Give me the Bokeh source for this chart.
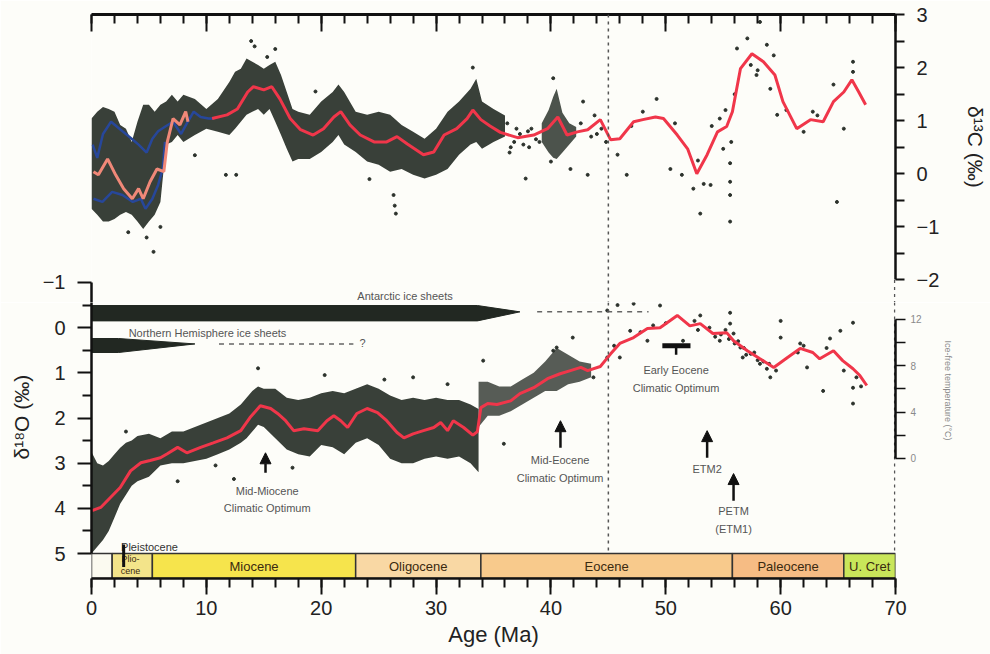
from bokeh.plotting import figure
from bokeh.layouts import column
from bokeh.models import Range1d, LinearAxis, FixedTicker, Span, Arrow, NormalHead
from bokeh.embed import file_html
from bokeh.resources import INLINE
from bokeh.core.properties import value

FONT = "Liberation Sans"
BG = "#fdfdf9"
NB = "\u00a0"

# ---------------- data ----------------
# smoothed benthic d13C (red), Ma / permil
c13_age = [10.5, 11.8, 12.7, 13.6, 14.1, 15.0, 15.7, 16.4, 17.3, 18.2, 19.3, 20.2, 21.1, 21.7, 22.5,
           23.4, 24.6, 25.7, 26.6, 27.5, 28.9, 29.8, 30.7, 31.8, 32.7, 33.2, 33.9, 34.7, 35.6, 37.1,
           38.5, 39.7, 40.6, 41.4, 42.3, 43.2, 44.3, 45.2, 46.0, 47.2, 48.0, 49.1, 49.8, 51.0, 51.9,
           52.7, 53.6, 54.5, 55.3, 55.8, 56.5, 57.5, 58.5, 59.5, 60.2, 61.4, 62.6, 63.7, 64.6, 65.5,
           66.2, 66.8, 67.4]
c13_val = [1.04, 1.11, 1.22, 1.54, 1.64, 1.58, 1.64, 1.41, 1.04, 0.83, 0.73, 0.85, 1.07, 1.17, 0.92,
           0.73, 0.60, 0.60, 0.70, 0.56, 0.36, 0.41, 0.73, 0.85, 1.04, 1.20, 1.02, 0.90, 0.78, 0.68,
           0.73, 0.85, 1.07, 0.73, 0.79, 0.83, 1.02, 0.64, 0.66, 0.98, 1.02, 1.07, 1.04, 0.73, 0.47,
           0.00, 0.36, 0.79, 0.89, 1.17, 1.98, 2.26, 2.11, 1.86, 1.36, 0.85, 1.02, 0.98, 1.36, 1.54,
           1.77, 1.54, 1.30]
# 0-11 Ma d13C records: blue (upper and lower), salmon
blue_hi_age = [0.1, 0.5, 1.0, 1.7, 2.7, 3.6, 4.1, 4.8, 5.3, 5.8, 6.5, 7.1, 7.8, 8.3, 8.9, 9.5, 10.2, 10.7]
blue_hi_val = [0.55, 0.30, 0.75, 0.98, 0.80, 0.64, 0.55, 0.40, 0.66, 0.80, 0.90, 0.98, 0.75, 0.95, 1.17, 1.07, 1.04, 1.04]
blue_lo_age = [0.17, 0.95, 1.8, 2.7, 3.6, 4.3, 4.7, 5.3, 5.8, 6.2, 6.4]
blue_lo_val = [-0.47, -0.53, -0.34, -0.40, -0.53, -0.47, -0.66, -0.47, -0.21, 0.09, 0.60]
salmon_age = [0.17, 0.6, 1.4, 2.1, 2.8, 3.55, 4.1, 4.5, 5.1, 5.7, 6.3, 6.6, 7.1, 7.7, 8.2, 8.4]
salmon_val = [0.04, -0.02, 0.28, -0.02, -0.28, -0.47, -0.28, -0.47, -0.15, 0.09, 0.04, 0.60, 1.04, 0.92, 1.17, 0.98]
# envelope of the dense d13C data cloud
c13_band_age = [0, 0.5, 1, 1.5, 2, 2.5, 3, 3.5, 4, 4.5, 5, 5.5, 6, 6.5, 7, 7.5, 8, 9, 10, 11, 12, 12.5,
                13, 13.5, 14, 14.5, 15, 15.5, 16, 16.5, 17, 17.5, 18, 19, 20, 21, 21.5, 22, 23, 24, 25,
                26, 27, 28, 29, 30, 31, 32, 33, 33.5, 34, 35, 36]
c13_band_hi = [1.04, 1.17, 1.26, 1.22, 1.17, 0.92, 0.85, 0.60, 0.98, 1.30, 1.30, 1.17, 1.30, 1.36, 1.49,
               1.36, 1.49, 1.41, 1.22, 1.41, 1.73, 1.92, 1.98, 2.17, 2.11, 2.05, 1.98, 2.05, 2.11, 1.86,
               1.54, 1.22, 1.17, 1.11, 1.36, 1.54, 1.68, 1.54, 1.17, 1.11, 1.17, 1.11, 0.92, 0.79, 0.66,
               0.85, 1.17, 1.36, 1.60, 1.79, 1.36, 1.22, 1.10]
c13_band_lo = [-0.66, -0.77, -0.90, -0.90, -0.85, -0.77, -0.72, -0.77, -0.90, -1.04, -0.90, -0.77, -0.53,
               0.55, 0.60, 0.73, 0.60, 0.73, 0.85, 0.79, 0.73, 0.85, 0.98, 1.11, 1.17, 1.22, 1.11, 1.22,
               0.98, 0.73, 0.47, 0.23, 0.28, 0.28, 0.41, 0.60, 0.73, 0.55, 0.41, 0.23, 0.17, 0.04, 0.09,
               -0.02, -0.09, -0.02, 0.09, 0.36, 0.55, 0.60, 0.47, 0.60, 0.70]
c13_band2_age = [39.2, 39.8, 40.2, 40.5, 41.0, 41.6, 42.2]
c13_band2_hi = [0.95, 1.20, 1.45, 1.60, 1.15, 0.95, 0.88]
c13_band2_lo = [0.60, 0.40, 0.30, 0.28, 0.40, 0.55, 0.70]
# scattered d13C samples
c13_dot_age = [5.4, 4.8, 3.2, 6.0, 11.7, 12.6, 9.0, 13.9, 14.2, 16.0, 15.3, 26.3, 26.5, 26.4, 24.2, 19.5,
               33.2, 37.8, 40.2, 40.0, 41.7, 42.8, 43.2, 46.6, 45.8, 48.0, 49.2, 50.4, 51.4, 52.4, 53.0,
               53.3, 53.9, 52.8, 54.7, 55.0, 55.6, 55.6, 55.6, 55.6, 55.7, 56.2, 57.1, 58.2, 58.8, 59.4,
               57.9, 59.1, 59.7, 62.0, 62.8, 64.9, 64.6, 65.5, 66.3, 66.3, 44.0, 47.0, 36.5, 38.0, 56.0,
               55.2, 54.0, 57.4, 58.0, 60.5, 63.2, 50.8, 43.8, 39.0, 36.2, 36.8, 37.3, 37.6, 38.3, 38.7,
               36.4, 37.0, 38.1, 42.6, 43.5, 44.4, 44.8]
c13_dot_val = [-1.47, -1.20, -1.10, -1.00, -0.02, -0.02, 0.35, 2.50, 2.40, 2.35, 2.20, -0.40, -0.75, -0.60,
               -0.10, 1.55, 2.00, -0.09, 1.80, 0.23, 0.09, 1.36, -0.02, -0.02, 0.36, 1.17, 1.41, 0.09,
               -0.02, -0.28, -0.75, -0.19, -0.21, 0.25, 1.04, 0.47, -0.15, -0.40, -0.90, 0.20, 0.60, 2.36,
               2.55, 2.86, 2.43, 2.23, 1.86, 1.60, 1.11, 0.79, 1.17, -0.53, 1.68, 0.85, 2.11, 1.92, 0.75,
               0.90, 0.50, 0.80, 1.50, 1.20, 0.90, 2.05, 1.95, 1.20, 1.10, 0.95, 1.10, 0.60, 0.95, 0.60,
               0.75, 0.55, 0.85, 0.65, 0.40, 0.85, 0.50, 0.95, 0.70, 0.85, 0.60]

# smoothed benthic d18O (red)
o18_age = [0.05, 0.8, 1.65, 2.5, 3.4, 4.3, 5.1, 6.0, 6.6, 7.5, 8.3, 9.5, 10.6, 11.8, 13.0, 13.8, 14.7,
           15.6, 16.2, 16.9, 17.6, 18.5, 19.7, 20.5, 21.1, 21.7, 22.3, 23.1, 24.0, 24.9, 25.7, 26.6,
           27.2, 28.0, 28.9, 29.8, 30.4, 31.0, 31.5, 32.4, 33.2, 33.6, 33.9, 34.5, 35.3, 36.5, 37.3,
           38.5, 39.7, 40.8, 41.7, 42.6, 43.2, 44.3, 45.2, 46.0, 47.2, 48.4, 49.5, 51.0, 52.1, 53.0,
           54.1, 55.3, 55.9, 57.1, 58.2, 59.4, 60.6, 61.7, 62.8, 63.4, 64.6, 65.4, 66.3, 66.9, 67.5]
o18_val = [4.05, 3.98, 3.76, 3.54, 3.17, 2.99, 2.94, 2.88, 2.79, 2.65, 2.77, 2.65, 2.55, 2.44, 2.28,
           1.99, 1.73, 1.79, 1.90, 2.06, 2.28, 2.24, 2.28, 2.06, 1.95, 2.06, 2.21, 1.90, 1.79, 1.88,
           2.06, 2.32, 2.44, 2.35, 2.28, 2.21, 2.10, 2.28, 2.06, 2.21, 2.38, 2.30, 1.77, 1.68, 1.70,
           1.62, 1.46, 1.33, 1.13, 1.02, 0.95, 0.88, 0.95, 0.86, 0.58, 0.35, 0.22, 0.02, 0.00, -0.27,
           -0.04, -0.09, 0.13, 0.11, 0.29, 0.51, 0.69, 0.88, 0.66, 0.46, 0.55, 0.69, 0.51, 0.73, 0.91,
           1.06, 1.28]
# envelope of the dense d18O data cloud
o18_band_age = [0, 0.5, 1, 1.5, 2, 2.5, 3, 3.5, 4, 5, 6, 7, 8, 9, 10, 11, 12, 13, 13.5, 14, 14.5, 15, 16,
                17, 18, 19, 20, 21, 22, 23, 24, 25, 26, 27, 28, 29, 30, 31, 32, 33, 33.7]
o18_band_hi = [2.75, 3.00, 3.05, 2.95, 2.80, 2.66, 2.55, 2.50, 2.40, 2.35, 2.45, 2.30, 2.30, 2.20, 2.10,
               2.00, 1.90, 1.70, 1.55, 1.40, 1.30, 1.35, 1.35, 1.55, 1.60, 1.55, 1.45, 1.40, 1.45, 1.35,
               1.25, 1.35, 1.50, 1.60, 1.55, 1.60, 1.55, 1.60, 1.60, 1.70, 1.80]
o18_band_lo = [5.00, 4.85, 4.70, 4.50, 4.20, 3.90, 3.70, 3.50, 3.40, 3.30, 3.05, 3.00, 3.00, 2.95, 2.90,
               2.80, 2.70, 2.55, 2.45, 2.30, 2.15, 2.20, 2.45, 2.70, 2.80, 2.85, 2.60, 2.65, 2.80, 2.55,
               2.45, 2.60, 2.90, 3.00, 3.00, 2.90, 2.85, 2.90, 2.85, 3.00, 3.20]
o18_band2_age = [33.7, 34.5, 35.5, 36.5, 37.5, 38.5, 39.5, 40.5, 41.5, 42.5, 43.5]
o18_band2_hi = [1.20, 1.20, 1.30, 1.30, 1.15, 1.00, 0.75, 0.45, 0.60, 0.75, 0.80]
o18_band2_lo = [2.20, 1.95, 1.95, 1.85, 1.70, 1.55, 1.40, 1.40, 1.25, 1.20, 1.10]
# scattered d18O samples
o18_dot_age = [44.9, 47.2, 49.5, 53.0, 53.6, 55.6, 55.6, 55.9, 56.5, 57.4, 58.2, 58.8, 59.1, 60.0, 61.7,
               62.3, 64.3, 65.2, 65.5, 66.3, 66.3, 63.7, 66.3, 60.0, 54.7, 56.7, 51.5, 48.4, 46.9, 46.0,
               40.2, 40.5, 41.9, 34.1, 35.9, 43.7, 44.9, 53.8, 54.3, 54.8, 55.2, 55.5, 56.0, 56.3, 56.8,
               57.0, 57.7, 58.0, 58.5, 59.0, 59.6, 52.5, 52.8, 50.0, 48.9, 47.8, 45.5, 61.5, 62.0, 64.0,
               66.6, 67.0, 45.8, 14.5, 20.3, 28.0, 31.0, 25.5, 3.0, 7.5, 10.8, 17.5, 12.4]
o18_dot_val = [-0.38, -0.53, -0.49, -0.27, -0.71, -0.33, -0.09, 0.13, 0.44, 0.58, 0.80, 0.91, 1.10, -0.15,
               0.35, 0.88, 0.24, 0.07, 0.95, 1.33, 1.68, 1.40, -0.11, 0.22, 0.29, 0.66, 0.29, 0.29, 0.07,
               0.66, 0.51, 0.44, 0.22, 0.73, 2.57, 1.10, 0.66, 0.00, 0.20, 0.15, 0.05, 0.25, 0.35, 0.30,
               0.45, 0.60, 0.55, 0.72, 0.75, 0.80, 0.95, -0.15, 0.05, -0.10, -0.05, 0.10, 0.40, 0.55, 0.40,
               0.45, 1.10, 1.30, -0.50, 0.90, 1.05, 1.10, 1.25, 1.15, 2.30, 3.40, 3.05, 3.10, 3.35]

# ice-sheet bars (age, d18O outline) and their dashed extensions
ant_x = [0, 33.6, 37.3, 33.6, 0]
ant_y = [-0.49, -0.49, -0.35, -0.15, -0.15]
ant_dash_x = [38.8, 48.5]
ant_dash_y = [-0.35, -0.35]
nh_x = [0, 2.35, 9.0, 2.35, 0]
nh_y = [0.24, 0.24, 0.36, 0.55, 0.55]
nh_dash_x = [11.1, 22.8]
nh_dash_y = [0.36, 0.36]

# geological epochs
epoch_names = ["Pleistocene", "Pliocene", "Miocene", "Oligocene", "Eocene", "Paleocene", "U. Cret"]
epoch_start = [0.0, 1.8, 5.3, 23.0, 33.9, 55.8, 65.5]
epoch_end = [1.8, 5.3, 23.0, 33.9, 55.8, 65.5, 70.0]
epoch_color = ["#fbfaf0", "#f3e48a", "#f6e44c", "#f9d8a4", "#f8ca8c", "#f6bc84", "#c9e65a"]

# annotation arrows (age, d18O start -> end)
arrow_x = [15.15, 40.83, 53.6, 55.9]
arrow_y0 = [3.21, 2.66, 2.88, 3.83]
arrow_y1 = [2.77, 2.06, 2.28, 3.23]

# ---------------- scales ----------------
AGE = (0, 70)
C13_RANGE = (-2.424, 3.0)
O18_P1 = (-0.557, -6.933)     # d18O scale over the upper panel (for the "-1" tick)
O18_P2 = (5.553, -0.557)      # d18O scale, inverted
TEMP = (-10.366, 13.468)      # ice-free temperature scale


def make_fig(height, y_range, top, bottom, x_loc, y_loc):
    p = figure(width=990, height=height, x_range=Range1d(*AGE), y_range=y_range,
               x_axis_location=x_loc, y_axis_location=y_loc, output_backend="svg",
               toolbar_location=None, min_border_left=91, min_border_right=95,
               min_border_top=top, min_border_bottom=bottom)
    p.background_fill_color = BG
    p.border_fill_color = BG
    p.outline_line_color = None
    p.grid.visible = False
    return p


def style_axis(ax, size="20px"):
    ax.major_label_text_font = FONT
    ax.major_label_text_font_size = size
    ax.major_label_text_color = "#222222"
    ax.axis_label_text_font = FONT
    ax.axis_label_text_font_style = "normal"
    ax.axis_label_text_color = "#222222"
    ax.axis_line_color = "#111111"
    ax.major_tick_line_color = "#111111"
    ax.minor_tick_line_color = "#111111"
    ax.major_tick_in = 0
    ax.minor_tick_in = 0


# ---------------- upper panel: d13C ----------------
p1 = make_fig(302, Range1d(*C13_RANGE), 14, 0, "above", "right")
top = p1.xaxis[0]
style_axis(top)
top.ticker = FixedTicker(ticks=list(range(0, 71, 10)), minor_ticks=list(range(0, 71, 2)))
top.major_label_overrides = {t: "" for t in range(0, 71, 10)}
top.major_label_standoff = 0
top.major_tick_out = 0
top.minor_tick_out = 0
top.major_tick_in = 17
top.minor_tick_in = 9
top.axis_line_width = 3
top.major_tick_line_width = 2
top.minor_tick_line_width = 2

ry = p1.yaxis[0]
style_axis(ry)
ry.ticker = FixedTicker(ticks=[-2, -1, 0, 1, 2, 3], minor_ticks=[-1.5, -0.5, 0.5, 1.5, 2.5])
ry.bounds = (-2, 3)
ry.major_tick_out = 9
ry.minor_tick_out = 9
ry.major_tick_line_width = 2
ry.minor_tick_line_width = 2
ry.axis_line_width = 2.5
ry.major_label_standoff = 12
ry.axis_label = "δ¹³C (‰)" + NB * 4
ry.axis_label_text_font_size = "21px"
ry.axis_label_standoff = 22

p1.extra_y_ranges = {"o18": Range1d(start=O18_P1[0], end=O18_P1[1])}
ly1 = LinearAxis(y_range_name="o18", ticker=FixedTicker(ticks=[-1], minor_ticks=[]),
                 bounds=(-1, O18_P1[0]))
style_axis(ly1)
ly1.major_tick_out = 14
ly1.major_tick_line_width = 2
ly1.axis_line_width = 2.5
ly1.major_label_standoff = 12
p1.add_layout(ly1, "left")

CLOUD = "#394039"
p1.varea(x=c13_band_age, y1=c13_band_lo, y2=c13_band_hi, fill_color=CLOUD)
p1.varea(x=c13_band2_age, y1=c13_band2_lo, y2=c13_band2_hi, fill_color=CLOUD, fill_alpha=0.9)
p1.scatter(x=c13_dot_age, y=c13_dot_val, size=3, color="#2c322c")
p1.line(x=blue_hi_age, y=blue_hi_val, line_color="#27479a", line_width=2.5)
p1.line(x=blue_lo_age, y=blue_lo_val, line_color="#27479a", line_width=2.5)
p1.line(x=salmon_age, y=salmon_val, line_color="#f08878", line_width=3)
p1.line(x=c13_age, y=c13_val, line_color="#f0364a", line_width=3)
p1.add_layout(Span(location=45, dimension="height", line_color="#555555", line_width=1.5, line_dash="3 4"))
p1.segment(x0=[69.93], y0=[-2.0], x1=[69.93], y1=[C13_RANGE[0]], line_color="#555555",
           line_width=1.5, line_dash="3 4")
p1.text(x=[27.3], y=[-0.69], text=["Antarctic ice sheets"], y_range_name="o18",
        text_font=value(FONT), text_font_size="11px", text_align="center",
        text_baseline="middle", text_color="#555555")

# ---------------- lower panel: d18O + epochs ----------------
p2 = make_fig(352, Range1d(start=O18_P2[0], end=O18_P2[1]), 0, 76, "below", "left")
bx = p2.xaxis[0]
style_axis(bx)
bx.ticker = FixedTicker(ticks=list(range(0, 71, 10)), minor_ticks=list(range(0, 71, 2)))
bx.major_tick_out = 16
bx.minor_tick_out = 9
bx.major_tick_line_width = 2
bx.minor_tick_line_width = 2
bx.axis_line_width = 2.5
bx.major_label_standoff = 6
bx.axis_label = "Age (Ma)"
bx.axis_label_text_font_size = "22px"
bx.axis_label_standoff = 4

ly = p2.yaxis[0]
style_axis(ly)
ly.ticker = FixedTicker(ticks=[0, 1, 2, 3, 4, 5], minor_ticks=[-0.5, 0.5, 1.5, 2.5, 3.5, 4.5])
ly.bounds = (-1, 5)
ly.major_tick_out = 14
ly.minor_tick_out = 9
ly.major_tick_line_width = 2
ly.minor_tick_line_width = 2
ly.axis_line_width = 2.5
ly.major_label_standoff = 12
ly.axis_label = NB * 8 + "δ¹⁸O (‰)"
ly.axis_label_text_font_size = "21px"
ly.axis_label_standoff = 18

p2.extra_y_ranges = {"temp": Range1d(start=TEMP[0], end=TEMP[1])}
ta = LinearAxis(y_range_name="temp", ticker=FixedTicker(ticks=[0, 4, 8, 12], minor_ticks=[2, 6, 10]),
                bounds=(0, 12))
style_axis(ta, "10px")
ta.major_label_text_color = "#8a8a8a"
ta.major_tick_out = 10
ta.minor_tick_out = 10
ta.major_tick_line_width = 1.5
ta.minor_tick_line_width = 1.5
ta.axis_line_width = 2.5
ta.major_label_standoff = 5
ta.axis_label = "Ice-free temperature (°C)" + NB * 40
ta.axis_label_text_font_size = "9px"
ta.axis_label_text_color = "#8a8a8a"
ta.axis_label_standoff = 18
p2.add_layout(ta, "right")

p2.varea(x=o18_band_age, y1=o18_band_lo, y2=o18_band_hi, fill_color=CLOUD)
p2.varea(x=o18_band2_age, y1=o18_band2_lo, y2=o18_band2_hi, fill_color=CLOUD, fill_alpha=0.85)
p2.scatter(x=o18_dot_age, y=o18_dot_val, size=3, color="#2c322c")
p2.line(x=o18_age, y=o18_val, line_color="#f0364a", line_width=3)

# ice sheets
p2.patch(x=ant_x, y=ant_y, fill_color="#222822", line_color="#222822")
p2.line(x=ant_dash_x, y=ant_dash_y, line_color="#666666", line_width=1.5, line_dash="5 5")
p2.patch(x=nh_x, y=nh_y, fill_color="#222822", line_color="#222822")
p2.line(x=nh_dash_x, y=nh_dash_y, line_color="#666666", line_width=1.5, line_dash="5 5")

# dashed verticals (45 Ma and right edge)
p2.segment(x0=[45, 69.93], y0=[O18_P2[1], O18_P2[1]], x1=[45, 69.93], y1=[5, 5],
           line_color="#555555", line_width=1.5, line_dash="3 4")

# epochs bar
n = len(epoch_names)
p2.quad(left=epoch_start, right=epoch_end, top=[5.0] * n, bottom=[O18_P2[0]] * n,
        fill_color=epoch_color, line_color="#333333", line_width=1.5)
main_idx = [2, 3, 4, 5, 6]
p2.text(x=[(epoch_start[i] + epoch_end[i]) / 2 for i in main_idx], y=[5.29] * len(main_idx),
        text=[epoch_names[i] for i in main_idx], text_font=value(FONT), text_font_size="13px",
        text_align="center", text_baseline="middle", text_color="#3a2a10")
p2.text(x=[3.4, 3.4], y=[5.13, 5.38], text=["Plio-", "cene"], text_font=value(FONT),
        text_font_size="9px", text_align="center", text_baseline="middle", text_color="#3a2a10")
p2.text(x=[5.05], y=[4.85], text=[epoch_names[0]], text_font=value(FONT), text_font_size="11px",
        text_align="center", text_baseline="middle", text_color="#333333")
p2.segment(x0=[2.8], y0=[4.8], x1=[2.8], y1=[5.3], line_color="#111111", line_width=3)

# annotations
ann_x = [10.1, 15.3, 15.3, 40.8, 40.8, 50.9, 50.9, 53.6, 55.9, 55.9, 23.6]
ann_y = [0.11, 3.61, 3.99, 2.94, 3.32, 0.93, 1.33, 3.12, 4.05, 4.45, 0.33]
ann_t = ["Northern Hemisphere ice sheets", "Mid-Miocene", "Climatic Optimum",
         "Mid-Eocene", "Climatic Optimum", "Early Eocene", "Climatic Optimum", "ETM2", "PETM", "(ETM1)", "?"]
p2.text(x=ann_x, y=ann_y, text=ann_t, text_font=value(FONT), text_font_size="11px",
        text_align="center", text_baseline="middle", text_color="#555555")
for xa, ya0, ya1 in zip(arrow_x, arrow_y0, arrow_y1):
    p2.add_layout(Arrow(end=NormalHead(size=11, fill_color="#111111", line_color="#111111"),
                        x_start=xa, y_start=ya0, x_end=xa, y_end=ya1,
                        line_color="#111111", line_width=2.5))
# Early Eocene Climatic Optimum bar
p2.segment(x0=[49.7], y0=[0.40], x1=[52.15], y1=[0.40], line_color="#111111", line_width=5)
p2.segment(x0=[50.9], y0=[0.40], x1=[50.9], y1=[0.60], line_color="#111111", line_width=2.5)

layout = column(p1, p2, spacing=0)
open("out.html", "w").write(file_html(layout, INLINE))
